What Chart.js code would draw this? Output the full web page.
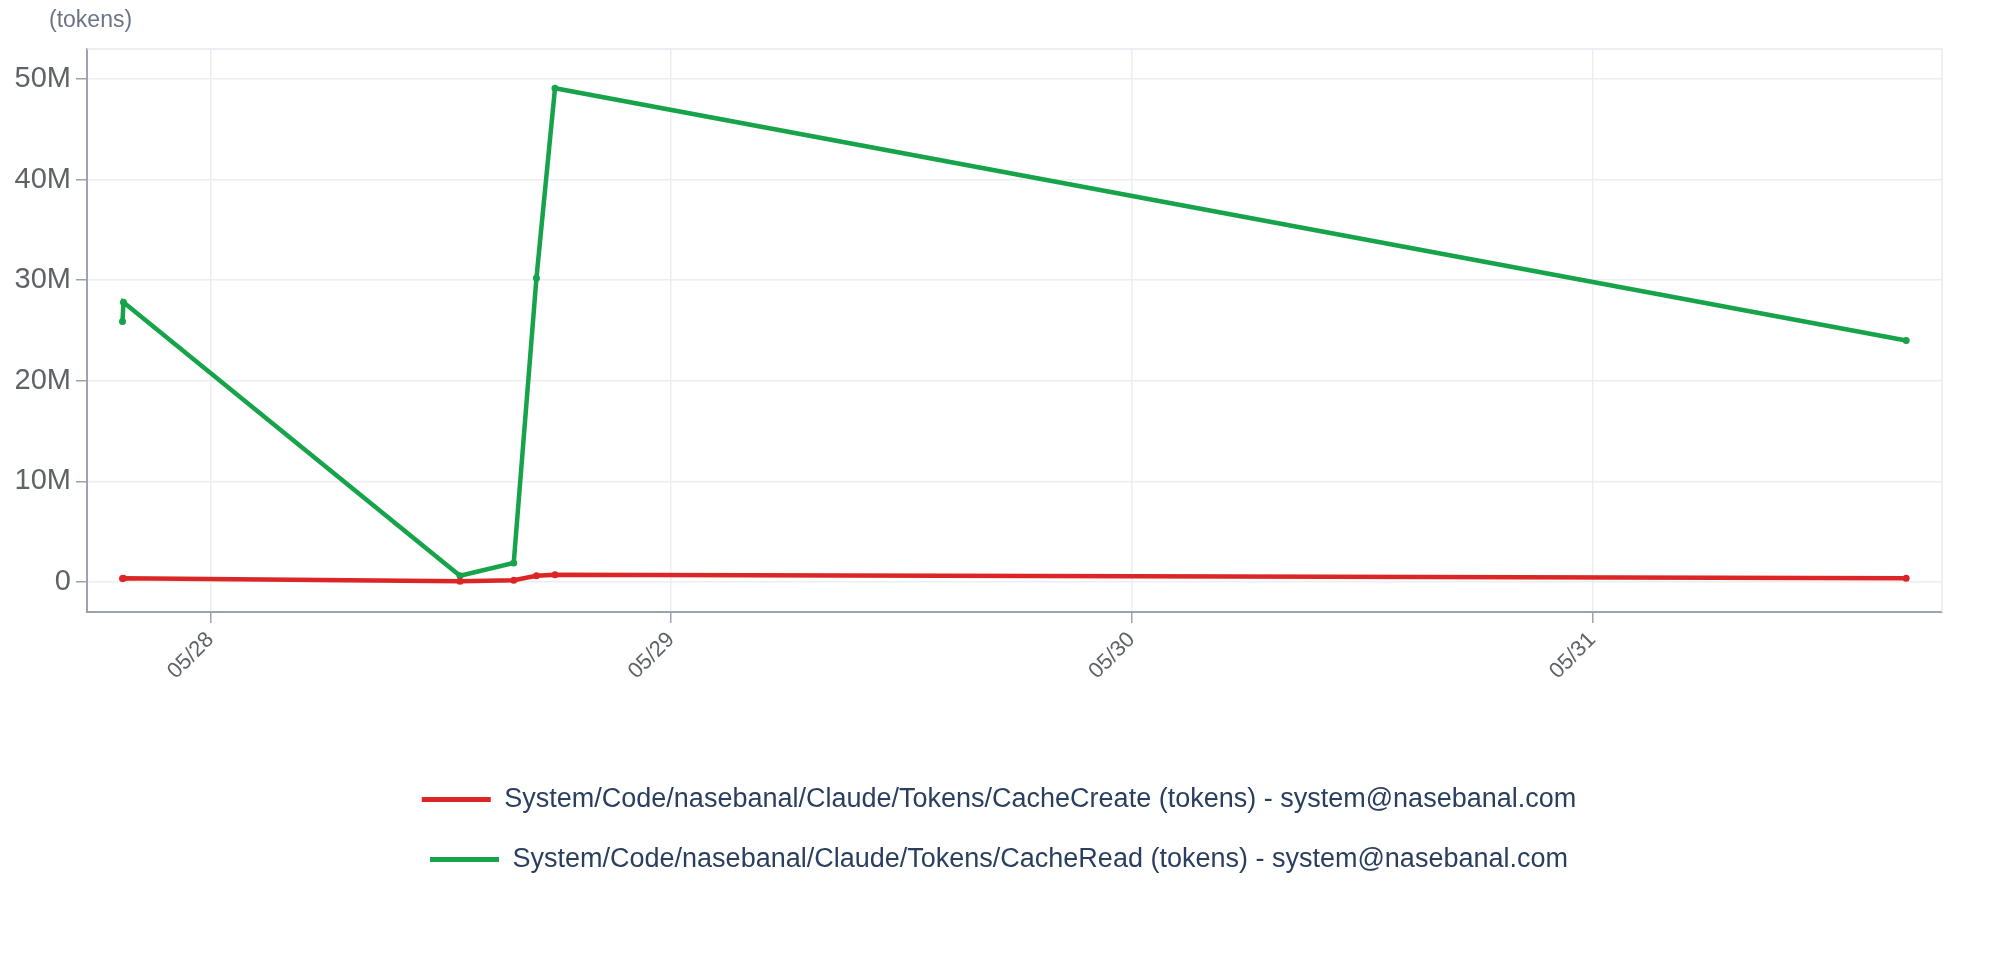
<!DOCTYPE html>
<html>
<head>
<meta charset="utf-8">
<script src="https://cdn.jsdelivr.net/npm/chart.js@4/dist/chart.umd.min.js"></script>
<style>
  html, body { margin: 0; padding: 0; background: #fff; }
  #wrap { position: relative; width: 2000px; height: 971px; }
  #unit {
    position: absolute; left: 49px; top: 6px;
    font-family: "Liberation Sans", Arial, sans-serif; font-size: 23px; color: #6b7487;
  }
</style>
</head>
<body>
<div id="wrap">
  <canvas id="chart" width="2000" height="971"></canvas>
  <div id="unit">(tokens)</div>
</div>
<script>
// sample times (local)
const times = [
  "2025-05-27T19:25", "2025-05-27T19:28", "2025-05-28T13:00", "2025-05-28T15:48",
  "2025-05-28T16:59", "2025-05-28T17:57", "2025-05-31T16:21"
];
// values in tokens
const cacheCreate = [340000, 350000, 50000, 150000, 600000, 700000, 350000];
const cacheRead = [25900000, 27800000, 600000, 1870000, 30200000, 49100000, 24000000];

const seriesNames = [
  "System/Code/nasebanal/Claude/Tokens/CacheCreate (tokens) - system@nasebanal.com",
  "System/Code/nasebanal/Claude/Tokens/CacheRead (tokens) - system@nasebanal.com"
];

const xTickDates = ["2025-05-28T00:00", "2025-05-29T00:00", "2025-05-30T00:00", "2025-05-31T00:00"];
const xTickLabels = ["05/28", "05/29", "05/30", "05/31"];
const xRange = ["2025-05-27T17:34", "2025-05-31T18:13"];
const yTicks = [0, 10000000, 20000000, 30000000, 40000000, 50000000];
const yTickLabels = ["0", "10M", "20M", "30M", "40M", "50M"];

const FONT = "'Liberation Sans', Arial, sans-serif";
const RED = "#dc2626";
const GREEN = "#16a34a";

function toPoints(vals) {
  return vals.map((v, i) => ({x: Date.parse(times[i]), y: v}));
}

// light frame on top/right of the plot area
const frame = {
  id: "frame",
  beforeDatasetsDraw(chart) {
    const a = chart.chartArea, c = chart.ctx;
    c.save();
    c.strokeStyle = "#e8eaee";
    c.lineWidth = 1.5;
    c.beginPath();
    c.moveTo(a.left, a.top);
    c.lineTo(a.right, a.top);
    c.lineTo(a.right, a.bottom);
    c.stroke();
    c.restore();
  }
};

// center the legend on the page rather than on the padded box
const legendShift = {
  id: "legendShift",
  afterLayout(chart) {
    chart.legend.left += 28;
    chart.legend.right += 28;
  }
};

new Chart(document.getElementById("chart"), {
  type: "line",
  data: {
    datasets: [
      {label: seriesNames[0], data: toPoints(cacheCreate), borderColor: RED, backgroundColor: RED},
      {label: seriesNames[1], data: toPoints(cacheRead), borderColor: GREEN, backgroundColor: GREEN}
    ]
  },
  options: {
    responsive: false,
    devicePixelRatio: 1,
    animation: false,
    layout: { padding: {top: 49, right: 58, bottom: 88, left: 0} },
    elements: {
      line: { borderWidth: 4.5, tension: 0 },
      point: { radius: 3.5, borderWidth: 0, hoverRadius: 4 }
    },
    plugins: {
      tooltip: { enabled: false },
      legend: {
        position: "bottom",
        labels: {
          font: {family: FONT, size: 27},
          color: "#2a3f5f",
          boxWidth: 69,
          boxHeight: 5,
          padding: 33,
          generateLabels(chart) {
            return Chart.defaults.plugins.legend.labels.generateLabels(chart)
              .map(it => Object.assign(it, {lineWidth: 0}));
          }
        }
      }
    },
    scales: {
      x: {
        type: "linear",
        min: Date.parse(xRange[0]),
        max: Date.parse(xRange[1]),
        afterBuildTicks(s) { s.ticks = xTickDates.map(d => ({value: Date.parse(d)})); },
        afterFit(s) { s.height = 141; },
        grid: { color: "#eceef2", lineWidth: 1.5, tickColor: "#9ca3af", tickLength: 11 },
        border: { color: "#9ca3af", width: 2 },
        ticks: {
          minRotation: 45, maxRotation: 45, autoSkip: false,
          font: {family: FONT, size: 22}, color: "#5f6368", padding: 4,
          callback: (v, i) => xTickLabels[i]
        }
      },
      y: {
        min: -3000000,
        max: 53000000,
        afterBuildTicks(s) { s.ticks = yTicks.map(v => ({value: v})); },
        afterFit(s) { s.width = 87; },
        grid: { color: "#eceef2", lineWidth: 1.5, tickColor: "#9ca3af", tickLength: 11 },
        border: { color: "#9ca3af", width: 2 },
        ticks: {
          font: {family: FONT, size: 29}, color: "#5f6368", padding: 5,
          callback: (v, i) => yTickLabels[i]
        }
      }
    }
  },
  plugins: [frame, legendShift]
});
</script>
</body>
</html>
